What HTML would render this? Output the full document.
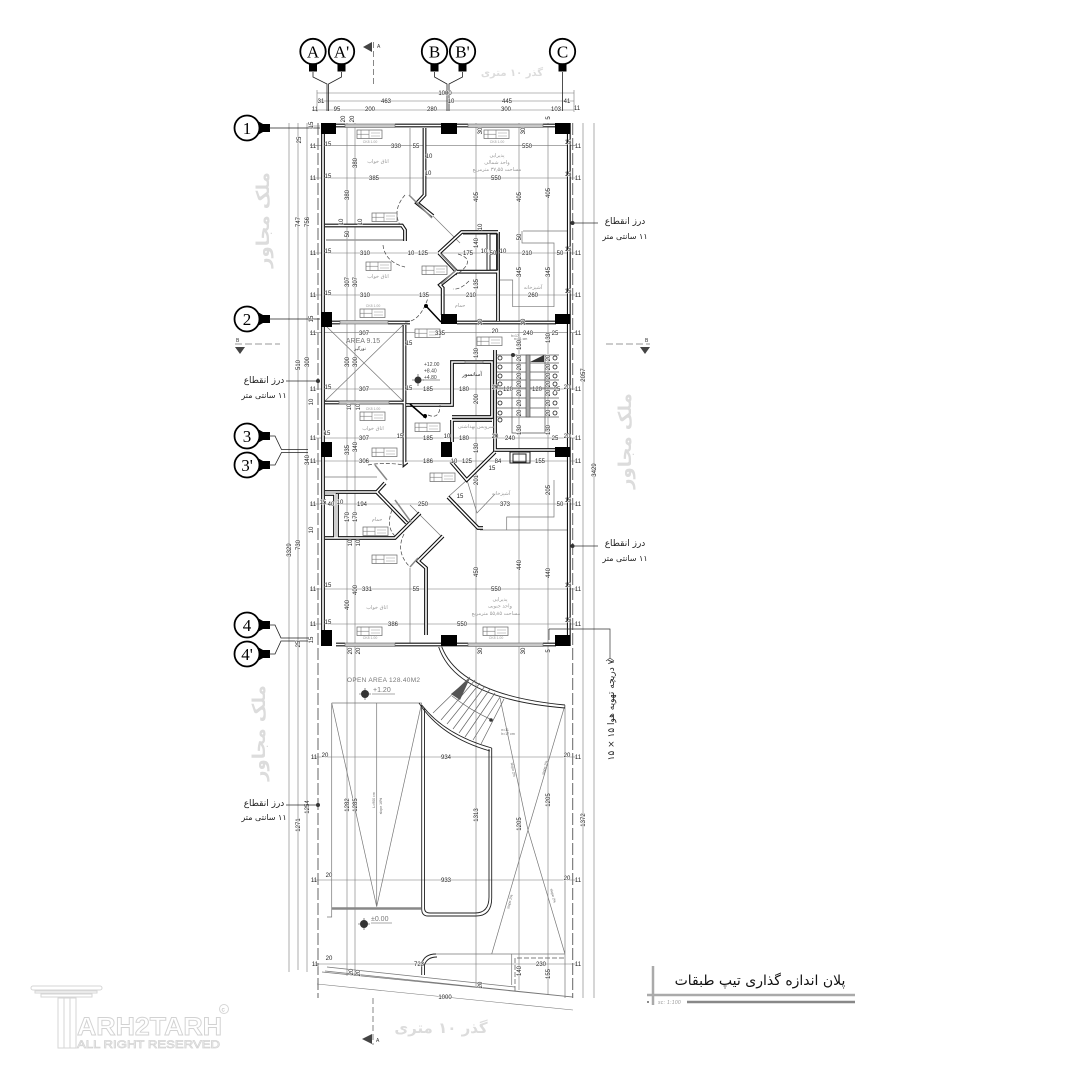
<!DOCTYPE html>
<html><head><meta charset="utf-8">
<style>
html,body{margin:0;padding:0;background:#fff;width:1080px;height:1080px;overflow:hidden}
svg{display:block}
text{font-family:"Liberation Sans",sans-serif}
.d text{font-size:6px;fill:#222;text-anchor:middle;stroke:#fff;stroke-width:.7px;paint-order:stroke}
.fa{font-family:"DejaVu Sans","Liberation Sans",sans-serif!important;direction:rtl}
.g{fill:#9a9a9a;font-size:5px;text-anchor:middle}
.dim{stroke:#777;stroke-width:.6;fill:none}
.t{stroke:#777;stroke-width:.7;fill:none}
.lbl{font-size:17px;font-family:"Liberation Serif",serif;text-anchor:middle;fill:#000}
</style></head><body>
<svg width="1080" height="1080" viewBox="0 0 1080 1080" xmlns="http://www.w3.org/2000/svg">
<defs>
<g id="tag"><rect x="0" y="0" width="25" height="8.500" fill="#fff" stroke="#666" stroke-width=".7"/><path d="M4 0V8.500M12 0V8.500M0 4.200H12" stroke="#666" stroke-width=".5" fill="none"/><path d="M14 3H23M14 6H23" stroke="#bbb" stroke-width=".8"/></g>
<g id="bub"><path d="M-8 9 L-4 13 V20 H4 V13 L8 9Z" fill="#000"/></g>
<g id="rb"><path d="M9 -8 L16 -4 H23 V4 H16 L9 8Z" fill="#000"/></g>
<path id="wp" d="M323 123V646M568.800 123V646M395 125.500H468M543 125.500H556M336 125.500H345M336 644.500H345M395 644.500H468M543 644.500H556M424.500 128V195L417 203L433 216M325 225.500H402L405 230V241M498 232V321M439 253L461.700 232H498M439 253L456.700 271.700L440 285L442.700 288V315M456.700 271.700H498M332 322.500H340M388 322.500H410M457 322.500H556M404.500 325V464L407 462M325 402.500H404M406 405H452V362H492V417H452M452 420H492M452 420V442M495 350V450H555M451 461.700L466.700 480L495 452M325 492H376.700L406.700 523M385 483L376.700 492M420 513L395 538H325M337 494V538M325 494H335V538H325M426 635V568L418 561L443 536M448 497L478 528H483"/>
</defs>

<!-- dim lines vertical -->
<g class="dim">
<path d="M289 123V972M298 123V970M307 123V972M347 123V976M355 123V976M476 123V986M519 123V990M548 123V995M583 123V998M594 123V998"/>
<path d="M317 93H574M317 101H574M312 110H574"/>
<path d="M310 145.700H576M310 178H576M310 253H576M310 295H576M310 332.700H576M310 389H576M310 438H576M310 461H576M310 504H576M310 589H576M310 624H576M313 757H576M313 880H576M313 964H576"/>
<path d="M317 984L573 1010"/>
<path d="M574 90V112M317 90V112M310 126H320"/>
</g>
<path d="M318 123V998M572.700 123V998" stroke="#666" stroke-width="1" stroke-dasharray="12 3" fill="none"/>

<!-- thin gray room lines -->
<g class="t">
<path d="M410 128V195M410 568V643"/>
<path d="M523 231H567M522 231V243H554V306.700H512.700V280H500"/>
<path d="M480 530H567M506.700 530V517H554V480"/>
<path d="M325 477H377M325 491H376"/>
<path d="M433 216L460 243M448 497L467 480L477 513L495 494"/>
<path d="M331.700 703H421.700M331.700 703L376.700 906.700L421.700 703M376.700 703V906.700M331.700 703V917H327"/>
<path d="M500 698L528 830L565 705M528 830L491.700 954M528 830L565 954M491.700 954H565M433 954H511.700M511.700 954V985M565 705V998"/>
<path d="M327 967L515 987M325 971L573 997M322 972L572 997"/>
<path d="M325 325L403 401M403 325L325 401"/>
<path d="M410 505L442 537"/>
</g>
<path d="M515 991V958H565" stroke="#555" stroke-width=".7" stroke-dasharray="5 2" fill="none"/>
<path d="M332 908.500H421" stroke="#888" stroke-width="2.500"/>
<path d="M326 240H404" stroke="#999" stroke-width="1.500"/>

<!-- walls -->
<use href="#wp" fill="none" stroke="#111" stroke-width="3.800"/>
<use href="#wp" fill="none" stroke="#fff" stroke-width="1.600"/>

<!-- windows -->
<g fill="#c8c8c8" stroke="#666" stroke-width=".6">
<rect x="345" y="124" width="50" height="3.500"/><rect x="468" y="124" width="75" height="3.500"/>
<rect x="345" y="643" width="50" height="3.500"/><rect x="468" y="643" width="75" height="3.500"/>
<rect x="340" y="320.500" width="48" height="3.500"/>
<rect x="339" y="401" width="50" height="3"/>
<rect x="465" y="361" width="18" height="2"/>
</g>
<g fill="none" stroke="#888" stroke-width="1.500">
<path d="M409 195L432 218M441 284L456 270M441 254L456 270"/>
<path d="M375 465L387 480M395 500L411 522M418 558L410 567"/>
</g>
<g fill="#000">
<rect x="321" y="123" width="15" height="11"/><rect x="441" y="123" width="16" height="11"/><rect x="555" y="123" width="15.500" height="11"/>
<rect x="321" y="312" width="11" height="15"/><rect x="441" y="314" width="16" height="10"/><rect x="555" y="314" width="15.500" height="10"/>
<rect x="321" y="442" width="11" height="15"/><rect x="441" y="442" width="11" height="15"/><rect x="555" y="447" width="15.500" height="10"/>
<rect x="321" y="630" width="11" height="16"/><rect x="441" y="635" width="16" height="11"/><rect x="555" y="635" width="15.500" height="11"/>
</g>
<!-- inner bath boxes -->
<g fill="none" stroke="#222" stroke-width="1"><rect x="490" y="234" width="7.700" height="36"/><path d="M463 234H487V270"/></g>
<!-- door swings -->
<g fill="none" stroke="#444" stroke-width=".7" stroke-dasharray="4 2">
<path d="M405 195Q392 210 400 225M383 245Q385 262 405 267M469 281Q460 290 453 289M405 322Q420 322 428 298M428 415Q440 420 440 405M368 465Q384 462 405 465M392 510Q385 528 397 538M404 534Q395 552 410 567M458 254Q478 260 456 275"/>
</g>
<path d="M426 306L441 322M410 404L426 418" stroke="#000" stroke-width="1.500"/>
<circle cx="426" cy="306" r="2"/><circle cx="425" cy="416" r="2"/>

<!-- shaft -->
<g fill="none" stroke="#222" stroke-width="1"><rect x="510" y="452" width="20" height="11"/><rect x="513" y="454" width="13" height="8"/></g>

<!-- stairs 1 -->
<g stroke="#555" stroke-width=".7" fill="none">
<path d="M497 355H559M497 363H559M497 372H559M497 380H559M497 388H559M497 398H559M497 408H559M497 417H559"/>
<path d="M512 355V433H545V355"/>
<rect x="526" y="355" width="4" height="62" fill="#aaa"/>
</g>
<path d="M530 362L544 355V362Z" fill="#333"/>
<circle cx="513" cy="355" r="2" fill="#333"/>
<g fill="#fff" stroke="#222" stroke-width=".8"><circle cx="500" cy="358" r="2"/><circle cx="500" cy="367" r="2"/><circle cx="500" cy="376" r="2"/><circle cx="500" cy="384" r="2"/><circle cx="500" cy="393" r="2"/><circle cx="500" cy="403" r="2"/><circle cx="500" cy="413" r="2"/><circle cx="500" cy="420" r="2"/><circle cx="555" cy="358" r="2"/><circle cx="555" cy="367" r="2"/><circle cx="555" cy="376" r="2"/><circle cx="555" cy="384" r="2"/><circle cx="555" cy="393" r="2"/><circle cx="555" cy="403" r="2"/><circle cx="555" cy="413" r="2"/></g>
<g class="d">
<text transform="rotate(-90 519 358)" x="519" y="360">20</text><text transform="rotate(-90 519 367)" x="519" y="369">20</text><text transform="rotate(-90 519 376)" x="519" y="378">20</text><text transform="rotate(-90 519 384)" x="519" y="386">20</text><text transform="rotate(-90 519 393)" x="519" y="395">20</text><text transform="rotate(-90 519 403)" x="519" y="405">20</text><text transform="rotate(-90 519 413)" x="519" y="415">20</text>
<text transform="rotate(-90 548 358)" x="548" y="360">20</text><text transform="rotate(-90 548 367)" x="548" y="369">20</text><text transform="rotate(-90 548 376)" x="548" y="378">20</text><text transform="rotate(-90 548 384)" x="548" y="386">20</text><text transform="rotate(-90 548 393)" x="548" y="395">20</text><text transform="rotate(-90 548 403)" x="548" y="405">20</text><text transform="rotate(-90 548 413)" x="548" y="415">20</text>
</g>

<!-- curved stair -->
<g fill="none" stroke="#222" stroke-width=".9">
<path d="M441.700 646.700Q460 695 565 705"/><path d="M438.700 647Q456 699 565 708"/>
<path d="M421.700 705Q445 735 491.700 748"/><path d="M419 703Q441 737 490 751"/>
<path d="M421.700 705V909Q421.700 916 428 916H476Q491.700 916 491.700 898V748"/><path d="M424.500 708V908Q424.500 913 430 913H475Q489 913 489 897V749"/>
<path d="M421.700 975V964Q424 954 436 954"/><path d="M424.500 975V965Q427 957 437 957"/>
</g>
<g stroke="#666" stroke-width=".7" fill="none">
<path d="M470 677L433 713M475 680L441 720M480 683L447 724M485 686L453 729M490 689L459 733M495 693L465 737M500 697L473 740M504 699L481 744"/>
<path d="M452 696Q470 710 492 720"/>
</g>
<path d="M451 694L460 700L470 678Z" fill="#555"/>
<circle cx="491" cy="720" r="1.800" fill="#333"/>

<!-- section markers -->
<g stroke="#555" stroke-width=".7" stroke-dasharray="6 3" fill="none">
<path d="M373.500 42V87M373 998V1045"/>
</g>
<path d="M235 344H280M606 344H650" stroke="#999" stroke-width="1" stroke-dasharray="7 3"/>
<g fill="#444">
<path d="M363 47L372 42V52Z"/><path d="M362 1039L372 1034V1044Z"/>
<path d="M235 347H245L240 354Z"/><path d="M640 347H650L645 354Z"/>
</g>
<text x="377" y="48" font-size="5" fill="#333">A</text><text x="376" y="1042" font-size="5" fill="#333">A</text>
<text x="236" y="342" font-size="5" fill="#333">B</text><text x="645" y="342" font-size="5" fill="#333">B</text>

<!-- grid bubbles top -->
<g>
<use href="#bub" x="313" y="51.500"/><use href="#bub" x="341.500" y="51.500"/><use href="#bub" x="434.500" y="51.500"/><use href="#bub" x="462.500" y="51.500"/><use href="#bub" x="562.500" y="51.500"/>
<g fill="#fff" stroke="#000" stroke-width="1.800"><circle cx="313" cy="51.500" r="12.700"/><circle cx="341.500" cy="51.500" r="12.700"/><circle cx="434.500" cy="51.500" r="12.700"/><circle cx="462.500" cy="51.500" r="12.700"/><circle cx="562.500" cy="51.500" r="12.700"/></g>
<text class="lbl" x="313" y="57.500">A</text><text class="lbl" x="341.500" y="57.500">A'</text><text class="lbl" x="434.500" y="57.500">B</text><text class="lbl" x="462.500" y="57.500">B'</text><text class="lbl" x="562.500" y="57.500">C</text>
<g fill="none" stroke="#222" stroke-width=".8">
<path d="M313 72V77L327 84V111M341.500 72V77L328.500 84V111M434.500 72V77L447 84V111M462.500 72V77L449 84V111M562.500 72V111"/>
</g>
</g>
<!-- grid bubbles left -->
<g>
<use href="#rb" x="247" y="128"/><use href="#rb" x="247" y="319"/><use href="#rb" x="247" y="436"/><use href="#rb" x="247" y="465"/><use href="#rb" x="247" y="625"/><use href="#rb" x="247" y="654"/>
<g fill="#fff" stroke="#000" stroke-width="1.800"><circle cx="247" cy="128" r="12.500"/><circle cx="247" cy="319" r="12.500"/><circle cx="247" cy="436" r="12.500"/><circle cx="247" cy="465" r="12.500"/><circle cx="247" cy="625" r="12.500"/><circle cx="247" cy="654" r="12.500"/></g>
<text class="lbl" x="247" y="134">1</text><text class="lbl" x="247" y="325">2</text><text class="lbl" x="247" y="442">3</text><text class="lbl" x="247" y="471">3'</text><text class="lbl" x="247" y="631">4</text><text class="lbl" x="247" y="660">4'</text>
<g fill="none" stroke="#222" stroke-width=".8">
<path d="M269 128H320M269 319H320M269 436H275L281.500 449.500H308M269 465H275L281.500 452.500H308M269 625H275L281 638H308M269 654H275L281 641H308"/>
</g>
</g>

<!-- window tags -->
<g>
<use href="#tag" x="357" y="130"/><use href="#tag" x="484" y="130"/><use href="#tag" x="372" y="213"/><use href="#tag" x="366" y="262"/><use href="#tag" x="422" y="266"/><use href="#tag" x="360" y="309"/><use href="#tag" x="415" y="329"/><use href="#tag" x="477" y="337"/><use href="#tag" x="360" y="412"/><use href="#tag" x="415" y="423"/><use href="#tag" x="372" y="448"/><use href="#tag" x="430" y="473"/><use href="#tag" x="363" y="527"/><use href="#tag" x="372" y="555"/><use href="#tag" x="357" y="627"/><use href="#tag" x="483" y="627"/>
</g>
<g fill="#9a9a9a" font-size="3.500" text-anchor="middle"><text x="370" y="143">CK8 1.00</text><text x="497" y="143">CK8 1.00</text><text x="373" y="307">CK8 1.00</text><text x="373" y="410">CK8 1.00</text><text x="370" y="639">CK8 1.00</text><text x="496" y="639">CK8 1.00</text></g>

<!-- room labels -->
<g>
<text class="g fa" x="378" y="163">اتاق خواب</text>
<text class="g fa" x="378" y="278">اتاق خواب</text>
<text class="g fa" x="373" y="430">اتاق خواب</text>
<text class="g fa" x="377" y="609">اتاق خواب</text>
<text class="g fa" x="497" y="157">پذیرایی</text>
<text class="g fa" x="497" y="164">واحد شمالی</text>
<text class="g fa" x="497" y="171">مساحت ۳۷٫۵۵ مترمربع</text>
<text class="g fa" x="533" y="289">آشپزخانه</text>
<text class="g fa" x="460" y="307">حمام</text>
<text class="g fa" x="377" y="521">حمام</text>
<text class="g fa" x="501" y="495">آشپزخانه</text>
<text class="g fa" x="476" y="428">سرویس بهداشتی</text>
<text class="fa" x="472" y="376" font-size="5.500" text-anchor="middle" fill="#222">آسانسور</text>
<text class="g fa" x="500" y="601">پذیرایی</text>
<text class="g fa" x="500" y="607.500">واحد جنوبی</text>
<text class="g fa" x="496" y="615">مساحت ۵۵٫۸۵ مترمربع</text>
<text x="363" y="343" font-size="7" fill="#777" text-anchor="middle">AREA 9.15</text>
<text class="fa" x="360" y="350" font-size="4.500" fill="#333" text-anchor="middle">نورگیر</text>
<text x="347" y="682" font-size="6.500" fill="#777" letter-spacing=".3">OPEN AREA 128.40M2</text>
<text x="373" y="692" font-size="7" fill="#777">+1.20</text><path d="M372 694H395M371 923H392" stroke="#555" stroke-width=".6"/>
<text x="371" y="921" font-size="7" fill="#777">±0.00</text>
<text x="424" y="366" font-size="5" fill="#444">+12.00</text><text x="424" y="372.500" font-size="5" fill="#444">+8.40</text><text x="424" y="379" font-size="5" fill="#444">+4.80</text><path d="M423 380H440" stroke="#333" stroke-width=".6"/>
</g>
<!-- level markers -->
<g fill="#333"><circle cx="418" cy="380" r="3.500"/><circle cx="365" cy="694" r="4"/><circle cx="364" cy="924" r="4"/></g>
<g stroke="#333" stroke-width=".6"><path d="M418 374V386M412 380H424M365 688V700M359 694H371M364 918V930M358 924H370"/></g>

<!-- small ramp text -->
<g fill="#666" font-size="3.500" text-anchor="middle">
<text x="374" y="800" transform="rotate(-90 374 800) translate(0 1)">L=900 cm</text>
<text x="382" y="806" transform="rotate(-90 382 806)">slope 16%</text>
<text x="512" y="770" transform="rotate(80 512 770)">slope 2%</text>
<text x="546" y="768" transform="rotate(-75 546 768)">slope 2%</text>
<text x="511" y="902" transform="rotate(-75 511 902)">slope 2%</text>
<text x="552" y="896" transform="rotate(75 552 896)">slope 2%</text>
<text x="505" y="731">n=11</text><text x="508" y="735">h=17 cm</text>
<text x="515" y="337">h=17</text>
</g>
<text x="514" y="340" font-size="3.500" fill="#666">n=11 cm</text>

<!-- dims horizontal -->
<g class="d">
<text x="445" y="95">1000</text>
<text x="321" y="103">31</text><text x="386" y="103">463</text><text x="451" y="103">10</text><text x="507" y="103">445</text><text x="567" y="103">41</text>
<text x="315" y="111">11</text><text x="337" y="111">95</text><text x="370" y="111">200</text><text x="432" y="111">280</text><text x="506" y="111">300</text><text x="556" y="111">103</text><text x="577" y="110">11</text>
<text x="313" y="148">11</text><text x="328" y="146">15</text><text x="396" y="148">330</text><text x="416" y="148">55</text><text x="527" y="148">550</text><text x="568" y="144">15</text><text x="578" y="148">11</text>
<text x="313" y="180">11</text><text x="328" y="178">15</text><text x="374" y="180">385</text><text x="496" y="180">550</text><text x="568" y="176">15</text><text x="578" y="180">11</text>
<text x="313" y="255">11</text><text x="328" y="253">15</text><text x="365" y="255">310</text><text x="423" y="255">125</text><text x="468" y="255">175</text><text x="484" y="253">10</text><text x="493" y="255">50</text><text x="503" y="253">10</text><text x="527" y="255">210</text><text x="560" y="255">50</text><text x="568" y="251">15</text><text x="578" y="255">11</text>
<text x="313" y="297">11</text><text x="328" y="295">15</text><text x="365" y="297">310</text><text x="424" y="297">135</text><text x="471" y="297">210</text><text x="533" y="297">260</text><text x="568" y="293">15</text><text x="578" y="297">11</text>
<text x="313" y="335">11</text><text x="364" y="335">307</text><text x="440" y="335">335</text><text x="495" y="333">20</text><text x="528" y="335">240</text><text x="555" y="335">25</text><text x="578" y="335">11</text>
<text x="313" y="391">11</text><text x="328" y="389">15</text><text x="364" y="391">307</text><text x="428" y="391">185</text><text x="464" y="391">180</text><text x="495" y="389">20</text><text x="508" y="391">120</text><text x="537" y="391">120</text><text x="557" y="391">25</text><text x="567" y="389">20</text><text x="578" y="391">11</text>
<text x="313" y="440">11</text><text x="327" y="435">15</text><text x="364" y="440">307</text><text x="400" y="438">15</text><text x="428" y="440">185</text><text x="447" y="438">10</text><text x="464" y="440">180</text><text x="495" y="438">20</text><text x="510" y="440">240</text><text x="555" y="440">25</text><text x="567" y="438">20</text><text x="578" y="440">11</text>
<text x="313" y="463">11</text><text x="364" y="463">306</text><text x="428" y="463">186</text><text x="454" y="463">10</text><text x="467" y="463">125</text><text x="498" y="463">84</text><text x="540" y="463">155</text><text x="578" y="463">11</text>
<text x="313" y="506">11</text><text x="323" y="504">15</text><text x="331" y="506">40</text><text x="340" y="504">10</text><text x="362" y="506">194</text><text x="423" y="506">250</text><text x="505" y="506">373</text><text x="560" y="506">50</text><text x="568" y="502">15</text><text x="578" y="506">11</text>
<text x="313" y="591">11</text><text x="328" y="587">15</text><text x="367" y="591">331</text><text x="416" y="591">55</text><text x="496" y="591">550</text><text x="568" y="587">15</text><text x="578" y="591">11</text>
<text x="313" y="626">11</text><text x="328" y="624">15</text><text x="393" y="626">386</text><text x="462" y="626">550</text><text x="568" y="622">15</text><text x="578" y="626">11</text>
<text x="314" y="759">11</text><text x="325" y="757">20</text><text x="446" y="759">934</text><text x="567" y="757">20</text><text x="578" y="759">11</text>
<text x="314" y="882">11</text><text x="329" y="877">20</text><text x="446" y="882">933</text><text x="567" y="880">20</text><text x="578" y="882">11</text>
<text x="315" y="966">11</text><text x="329" y="960">20</text><text x="419" y="966">723</text><text x="541" y="966">230</text><text x="578" y="966">11</text>
<text x="445" y="999">1000</text>
<text x="429" y="158">10</text><text x="428" y="175">10</text>
<text x="411" y="255">10</text><text x="409" y="390">15</text><text x="409" y="345">15</text><text x="492" y="470">15</text><text x="460" y="498">15</text>
</g>
<!-- dims vertical -->
<g class="d">
<text transform="rotate(-90 289 550)" x="289" y="552">3329</text>
<text transform="rotate(-90 298 222)" x="298" y="224">747</text>
<text transform="rotate(-90 307 222)" x="307" y="224">756</text>
<text transform="rotate(-90 298 365)" x="298" y="367">510</text>
<text transform="rotate(-90 307 362)" x="307" y="364">300</text>
<text transform="rotate(-90 307 460)" x="307" y="462">340</text>
<text transform="rotate(-90 298 545)" x="298" y="547">730</text>
<text transform="rotate(-90 298 825)" x="298" y="827">1271</text>
<text transform="rotate(-90 307 807)" x="307" y="809">1254</text>
<text transform="rotate(-90 347 195)" x="347" y="197">380</text><text transform="rotate(-90 355 163)" x="355" y="165">380</text>
<text transform="rotate(-90 347 282)" x="347" y="284">307</text><text transform="rotate(-90 355 282)" x="355" y="284">307</text>
<text transform="rotate(-90 347 362)" x="347" y="364">300</text><text transform="rotate(-90 355 362)" x="355" y="364">300</text>
<text transform="rotate(-90 347 450)" x="347" y="452">335</text><text transform="rotate(-90 355 447)" x="355" y="449">340</text>
<text transform="rotate(-90 347 605)" x="347" y="607">400</text><text transform="rotate(-90 355 590)" x="355" y="592">400</text>
<text transform="rotate(-90 347 517)" x="347" y="519">170</text><text transform="rotate(-90 355 517)" x="355" y="519">170</text>
<text transform="rotate(-90 347 805)" x="347" y="807">1282</text><text transform="rotate(-90 355 805)" x="355" y="807">1285</text>
<text transform="rotate(-90 476 197)" x="476" y="199">405</text><text transform="rotate(-90 519 197)" x="519" y="199">405</text><text transform="rotate(-90 548 193)" x="548" y="195">405</text>
<text transform="rotate(-90 476 243)" x="476" y="245">140</text><text transform="rotate(-90 476 284)" x="476" y="286">135</text>
<text transform="rotate(-90 476 353)" x="476" y="355">130</text><text transform="rotate(-90 476 399)" x="476" y="401">200</text><text transform="rotate(-90 476 448)" x="476" y="450">130</text>
<text transform="rotate(-90 476 480)" x="476" y="482">201</text><text transform="rotate(-90 476 572)" x="476" y="574">450</text>
<text transform="rotate(-90 476 815)" x="476" y="817">1313</text>
<text transform="rotate(-90 519 272)" x="519" y="274">345</text><text transform="rotate(-90 548 272)" x="548" y="274">345</text>
<text transform="rotate(-90 519 345)" x="519" y="347">130</text><text transform="rotate(-90 548 338)" x="548" y="340">130</text><text transform="rotate(-90 548 430)" x="548" y="432">130</text><text transform="rotate(-90 519 430)" x="519" y="432">130</text>
<text transform="rotate(-90 519 565)" x="519" y="567">440</text><text transform="rotate(-90 548 573)" x="548" y="575">440</text><text transform="rotate(-90 548 490)" x="548" y="492">205</text>
<text transform="rotate(-90 519 824)" x="519" y="826">1205</text><text transform="rotate(-90 548 800)" x="548" y="802">1205</text>
<text transform="rotate(-90 519 971)" x="519" y="973">140</text><text transform="rotate(-90 548 974)" x="548" y="976">155</text>
<text transform="rotate(-90 583 375)" x="583" y="377">2057</text><text transform="rotate(-90 594 470)" x="594" y="472">3429</text><text transform="rotate(-90 583 820)" x="583" y="822">1372</text>
<text transform="rotate(-90 299 140)" x="299" y="142">25</text><text transform="rotate(-90 311 125)" x="311" y="127">15</text>
<text transform="rotate(-90 343 119)" x="343" y="121">20</text><text transform="rotate(-90 352 119)" x="352" y="121">20</text><text transform="rotate(-90 480 131)" x="480" y="133">30</text><text transform="rotate(-90 523 131)" x="523" y="133">30</text><text transform="rotate(-90 548 118)" x="548" y="120">5</text>
<text transform="rotate(-90 341 222)" x="341" y="224">10</text><text transform="rotate(-90 360 222)" x="360" y="224">10</text><text transform="rotate(-90 480 227)" x="480" y="229">10</text><text transform="rotate(-90 519 237)" x="519" y="239">50</text><text transform="rotate(-90 347 234)" x="347" y="236">50</text>
<text transform="rotate(-90 350 651)" x="350" y="653">20</text><text transform="rotate(-90 358 651)" x="358" y="653">20</text><text transform="rotate(-90 480 651)" x="480" y="653">30</text><text transform="rotate(-90 523 651)" x="523" y="653">30</text><text transform="rotate(-90 548 651)" x="548" y="653">5</text>
<text transform="rotate(-90 350 543)" x="350" y="545">10</text><text transform="rotate(-90 358 543)" x="358" y="545">10</text>
<text transform="rotate(-90 480 322)" x="480" y="324">30</text><text transform="rotate(-90 523 322)" x="523" y="324">30</text><text transform="rotate(-90 349 407)" x="349" y="409">10</text><text transform="rotate(-90 358 407)" x="358" y="409">10</text>
<text transform="rotate(-90 351 972)" x="351" y="974">20</text><text transform="rotate(-90 358 973)" x="358" y="975">20</text><text transform="rotate(-90 480 985)" x="480" y="987">20</text>
<text transform="rotate(-90 311 319)" x="311" y="321">15</text><text transform="rotate(-90 311 402)" x="311" y="404">10</text><text transform="rotate(-90 311 530)" x="311" y="532">10</text><text transform="rotate(-90 311 640)" x="311" y="642">15</text><text transform="rotate(-90 298 644)" x="298" y="646">25</text>
</g>

<!-- break joint labels -->
<g fill="none" stroke="#333" stroke-width=".7"><path d="M574 223H598M286 381H318M574 546H598M286 805H318M549 629H610V658M606 661L610 658L614 661M549 629V640"/></g>
<g fill="#333"><circle cx="572.500" cy="223" r="2"/><circle cx="318" cy="381" r="2"/><circle cx="572.500" cy="546" r="2"/><circle cx="318" cy="805" r="2"/></g>
<g font-size="9" fill="#222" text-anchor="middle">
<text class="fa" x="625" y="224">درز انقطاع</text><text class="fa" x="625" y="239" font-size="8">۱۱ سانتی متر</text>
<text class="fa" x="264" y="383">درز انقطاع</text><text class="fa" x="264" y="398" font-size="8">۱۱ سانتی متر</text>
<text class="fa" x="625" y="546">درز انقطاع</text><text class="fa" x="625" y="561" font-size="8">۱۱ سانتی متر</text>
<text class="fa" x="264" y="806">درز انقطاع</text><text class="fa" x="264" y="820" font-size="8">۱۱ سانتی متر</text>
</g>
<text class="fa" transform="rotate(-90 614 710)" x="614" y="710" font-size="9" fill="#222" text-anchor="middle">۷ دریچه تهویه هوا ۱۵ × ۱۵</text>

<!-- neighbours -->
<g fill="#dcdcdc" font-weight="bold" text-anchor="middle">
<text class="fa" transform="rotate(-90 262 220)" x="262" y="227" font-size="18">ملک مجاور</text>
<text class="fa" transform="rotate(-90 624 441)" x="624" y="448" font-size="18">ملک مجاور</text>
<text class="fa" transform="rotate(-90 258 733)" x="258" y="740" font-size="18">ملک مجاور</text>
<text class="fa" x="512" y="76" font-size="10">گذر ۱۰ متری</text>
<text class="fa" x="441" y="1033" font-size="15">گذر ۱۰ متری</text>
</g>

<!-- title -->
<path d="M653 966V1005" stroke="#aaa" stroke-width="2.500"/>
<path d="M647 995H855" stroke="#aaa" stroke-width="2.500"/>
<path d="M687 1002H855" stroke="#888" stroke-width="2.500"/>
<circle cx="648" cy="1002" r="1" fill="#666"/>
<text x="658" y="1004" font-size="5" font-style="italic" fill="#999" letter-spacing=".3">sc: 1:100</text>
<text class="fa" x="760" y="985" font-size="14" fill="#111" text-anchor="middle">پلان اندازه گذاری تیپ طبقات</text>

<!-- watermark -->
<g fill="#fff" stroke="#d6d6d6" stroke-width="1">
<rect x="31" y="986" width="71" height="4" rx="2"/>
<rect x="35" y="991" width="62" height="2"/>
<rect x="41" y="994" width="51" height="3"/>
<path d="M58 998H76V1048H58Z"/><path d="M64 998V1048M70 998V1048"/>
<circle cx="224" cy="1009" r="4.500"/>
</g>
<text x="77" y="1035" font-size="25" font-weight="bold" fill="#fff" stroke="#d2d2d2" stroke-width=".9" textLength="145" lengthAdjust="spacingAndGlyphs">ARH2TARH</text>
<text x="77" y="1048" font-size="11" fill="#fff" stroke="#d2d2d2" stroke-width=".7" textLength="143" lengthAdjust="spacingAndGlyphs">ALL RIGHT RESERVED</text>
<text x="221.500" y="1011.500" font-size="6.500" fill="#bbb">c</text>
</svg>
</body></html>
